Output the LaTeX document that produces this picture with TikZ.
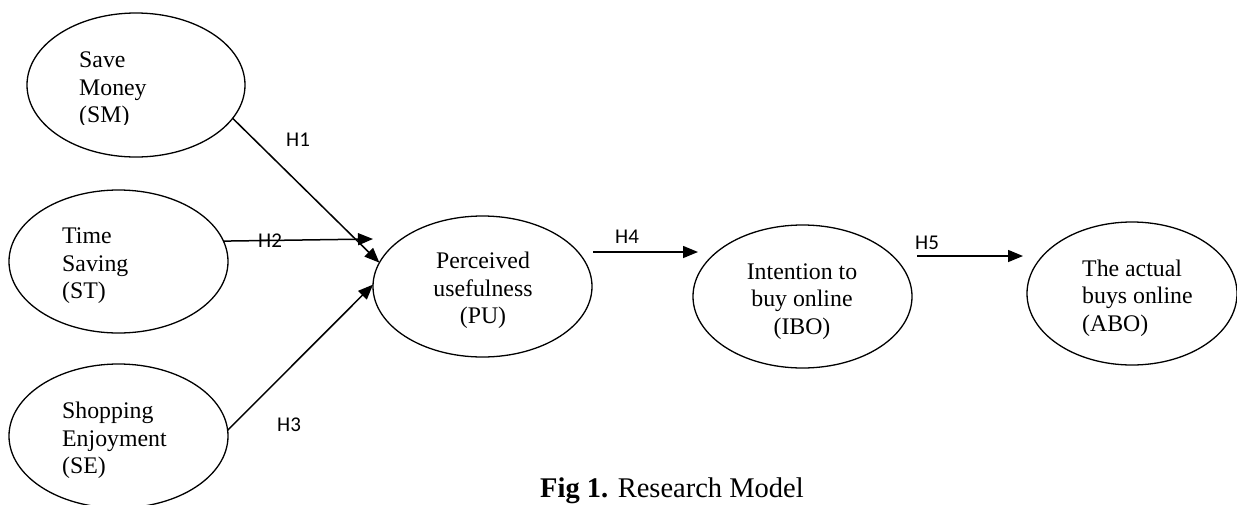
\documentclass[tikz,border=0pt]{standalone}
\usepackage{fontspec}
\setmainfont{Liberation Serif}
\newfontfamily\hfont{Carlito}
\usetikzlibrary{shapes.geometric,arrows.meta}

\tikzset{
  construct/.style={draw, ellipse, line width=1.3pt, inner sep=0pt, outer sep=0pt},
  ctext/.style={inner sep=0pt, font=\fontsize{23.8}{27.5}\selectfont},
  hyp/.style={inner sep=0pt, anchor=base west, font=\hfont\fontsize{21}{23}\selectfont},
  path/.style={line width=1.5pt, -{Triangle[length=15pt,width=12pt]}},
}

\begin{document}
\begin{tikzpicture}[x=1pt,y=-1pt]
\useasboundingbox (0,0) rectangle (1237,504);

% constructs
\node[construct, minimum width=218pt, minimum height=144pt] (sm) at (136,85) {};
\node[construct, minimum width=219pt, minimum height=143pt] (st) at (118.5,261.5) {};
\node[construct, minimum width=219pt, minimum height=144pt] (se) at (118.5,436) {};
\node[construct, minimum width=219pt, minimum height=141pt] (pu) at (482.5,286.5) {};
\node[construct, minimum width=219pt, minimum height=143pt] (ibo) at (802.5,296.5) {};
\node[construct, minimum width=210pt, minimum height=143pt] (abo) at (1132,293.5) {};

% construct names (anchored on the baseline of the last line)
\begin{scope}
  \clip (0,0) rectangle (300,124);
  \node[ctext, align=left, anchor=base west] (smt) at (79,122.5) {Save\\Money\\(SM)};
\end{scope}
\node[ctext, align=left, anchor=base west] (stt) at (62,298.5) {Time\\Saving\\(ST)};
\node[ctext, align=left, anchor=base west] (set) at (62,473.5) {Shopping\\Enjoyment\\(SE)};
\node[ctext, align=center, anchor=base] (put) at (483,323.5) {Perceived\\usefulness\\(PU)};
\node[ctext, align=center, anchor=base] (ibot) at (802,334) {Intention to\\buy online\\(IBO)};
\node[ctext, align=left, anchor=base west] (abot) at (1082,331) {The actual\\buys online\\(ABO)};

% free ends of the paths
\coordinate (h2end) at (373,239);
\coordinate (h4start) at (593,252);
\coordinate (h4end) at (698,252);
\coordinate (h5start) at (917,256);
\coordinate (h5end) at (1023,256);

% hypothesised paths
\draw[path] (sm.-19.2) -- (pu.167.7);
\draw[path] (st.11.7) -- (h2end);
\draw[path] (se.3) -- (pu.179.2);
\draw[path] (h4start) -- (h4end);
\draw[path] (h5start) -- (h5end);

% path labels
\node[hyp] (h1) at (286,146) {H1};
\node[hyp] (h2) at (258,247) {H2};
\node[hyp] (h3) at (277,431) {H3};
\node[hyp] (h4) at (615,243) {H4};
\node[hyp] (h5) at (915,249) {H5};

% caption
\node[inner sep=0pt, anchor=base west, font=\fontsize{28.5}{32}\selectfont] (cap) at (540,497) {\textbf{Fig 1.} Research Model};
\end{tikzpicture}
\end{document}
